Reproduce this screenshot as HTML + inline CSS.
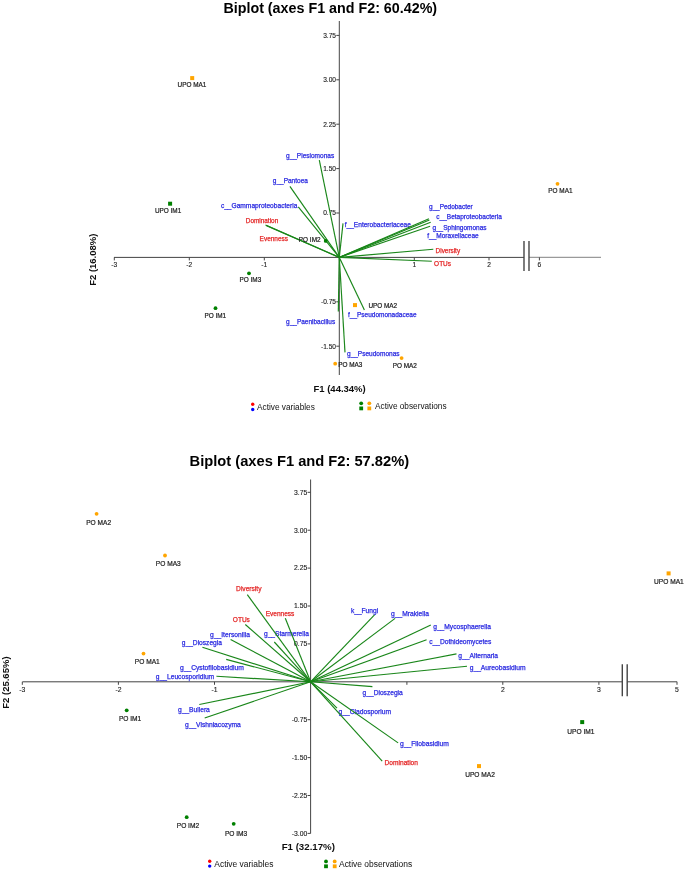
<!DOCTYPE html>
<html><head><meta charset="utf-8"><style>
html,body{margin:0;padding:0;background:#fff;}
svg{display:block;font-family:"Liberation Sans",sans-serif;will-change:transform;}
</style></head><body>
<svg width="685" height="870" viewBox="0 0 685 870">
<defs><filter id="b" x="0" y="0" width="100%" height="100%"><feGaussianBlur stdDeviation="0.28"/></filter></defs>
<rect width="685" height="870" fill="#fff"/>
<g filter="url(#b)">
<line x1="339.3" y1="21" x2="339.3" y2="375" stroke="#454545" stroke-width="1"/>
<line x1="114" y1="257.4" x2="524" y2="257.4" stroke="#454545" stroke-width="1"/>
<line x1="529" y1="257.4" x2="601" y2="257.4" stroke="#9a9a9a" stroke-width="1.4"/>
<line x1="524" y1="240.99999999999997" x2="524" y2="270.9" stroke="#454545" stroke-width="1.4"/>
<line x1="529" y1="240.99999999999997" x2="529" y2="270.9" stroke="#454545" stroke-width="1.4"/>
<line x1="114.3" y1="257.4" x2="114.3" y2="260.4" stroke="#454545" stroke-width="1"/>
<text x="114.3" y="267.1" font-size="6.6" fill="#202020" text-anchor="middle" stroke="#202020" stroke-width="0.12">-3</text>
<line x1="189.3" y1="257.4" x2="189.3" y2="260.4" stroke="#454545" stroke-width="1"/>
<text x="189.3" y="267.1" font-size="6.6" fill="#202020" text-anchor="middle" stroke="#202020" stroke-width="0.12">-2</text>
<line x1="264.3" y1="257.4" x2="264.3" y2="260.4" stroke="#454545" stroke-width="1"/>
<text x="264.3" y="267.1" font-size="6.6" fill="#202020" text-anchor="middle" stroke="#202020" stroke-width="0.12">-1</text>
<line x1="414.3" y1="257.4" x2="414.3" y2="260.4" stroke="#454545" stroke-width="1"/>
<text x="414.3" y="267.1" font-size="6.6" fill="#202020" text-anchor="middle" stroke="#202020" stroke-width="0.12">1</text>
<line x1="489" y1="257.4" x2="489" y2="260.4" stroke="#454545" stroke-width="1"/>
<text x="489" y="267.1" font-size="6.6" fill="#202020" text-anchor="middle" stroke="#202020" stroke-width="0.12">2</text>
<line x1="539.4" y1="257.4" x2="539.4" y2="260.4" stroke="#454545" stroke-width="1"/>
<text x="539.4" y="267.1" font-size="6.6" fill="#202020" text-anchor="middle" stroke="#202020" stroke-width="0.12">6</text>
<line x1="336.3" y1="35.39999999999998" x2="339.3" y2="35.39999999999998" stroke="#454545" stroke-width="1"/>
<text x="336.0" y="37.7" font-size="6.6" fill="#202020" text-anchor="end" stroke="#202020" stroke-width="0.12">3.75</text>
<line x1="336.3" y1="79.79999999999995" x2="339.3" y2="79.79999999999995" stroke="#454545" stroke-width="1"/>
<text x="336.0" y="82.1" font-size="6.6" fill="#202020" text-anchor="end" stroke="#202020" stroke-width="0.12">3.00</text>
<line x1="336.3" y1="124.19999999999996" x2="339.3" y2="124.19999999999996" stroke="#454545" stroke-width="1"/>
<text x="336.0" y="126.5" font-size="6.6" fill="#202020" text-anchor="end" stroke="#202020" stroke-width="0.12">2.25</text>
<line x1="336.3" y1="168.59999999999997" x2="339.3" y2="168.59999999999997" stroke="#454545" stroke-width="1"/>
<text x="336.0" y="170.9" font-size="6.6" fill="#202020" text-anchor="end" stroke="#202020" stroke-width="0.12">1.50</text>
<line x1="336.3" y1="212.99999999999997" x2="339.3" y2="212.99999999999997" stroke="#454545" stroke-width="1"/>
<text x="336.0" y="215.3" font-size="6.6" fill="#202020" text-anchor="end" stroke="#202020" stroke-width="0.12">0.75</text>
<line x1="336.3" y1="301.79999999999995" x2="339.3" y2="301.79999999999995" stroke="#454545" stroke-width="1"/>
<text x="336.0" y="304.1" font-size="6.6" fill="#202020" text-anchor="end" stroke="#202020" stroke-width="0.12">-0.75</text>
<line x1="336.3" y1="346.2" x2="339.3" y2="346.2" stroke="#454545" stroke-width="1"/>
<text x="336.0" y="348.5" font-size="6.6" fill="#202020" text-anchor="end" stroke="#202020" stroke-width="0.12">-1.50</text>
<text x="286.0" y="157.51" font-size="6.52" fill="#2a2ae0" stroke="#2a2ae0" stroke-width="0.25">g__Plesiomonas</text>
<text x="272.8" y="183.1" font-size="6.5" fill="#2a2ae0" stroke="#2a2ae0" stroke-width="0.25">g__Pantoea</text>
<text x="220.9" y="207.54" font-size="6.61" fill="#2a2ae0" stroke="#2a2ae0" stroke-width="0.25">c__Gammaproteobacteria</text>
<text x="245.8" y="222.57" font-size="6.42" fill="#e42828" stroke="#e42828" stroke-width="0.25">Domination</text>
<text x="259.6" y="241.4" font-size="6.49" fill="#e42828" stroke="#e42828" stroke-width="0.25">Evenness</text>
<text x="344.7" y="226.63" font-size="6.58" fill="#2a2ae0" stroke="#2a2ae0" stroke-width="0.25">f__Enterobacteriaceae</text>
<text x="428.9" y="209.09" font-size="6.46" fill="#2a2ae0" stroke="#2a2ae0" stroke-width="0.25">g__Pedobacter</text>
<text x="436.3" y="218.61" font-size="6.52" fill="#2a2ae0" stroke="#2a2ae0" stroke-width="0.25">c__Betaproteobacteria</text>
<text x="432.4" y="229.6" font-size="6.51" fill="#2a2ae0" stroke="#2a2ae0" stroke-width="0.25">g__Sphingomonas</text>
<text x="427.2" y="237.81" font-size="6.54" fill="#2a2ae0" stroke="#2a2ae0" stroke-width="0.25">f__Moraxellaceae</text>
<text x="435.6" y="252.67" font-size="6.4" fill="#e42828" stroke="#e42828" stroke-width="0.25">Diversity</text>
<text x="434.1" y="265.79" font-size="6.48" fill="#e42828" stroke="#e42828" stroke-width="0.25">OTUs</text>
<text x="348.0" y="316.9" font-size="6.49" fill="#2a2ae0" stroke="#2a2ae0" stroke-width="0.25">f__Pseudomonadaceae</text>
<text x="286.1" y="323.5" font-size="6.49" fill="#2a2ae0" stroke="#2a2ae0" stroke-width="0.25">g__Paenibacillus</text>
<text x="347.0" y="355.81" font-size="6.53" fill="#2a2ae0" stroke="#2a2ae0" stroke-width="0.25">g__Pseudomonas</text>
<line x1="339.3" y1="257.4" x2="319.3" y2="160.1" stroke="#1a861a" stroke-width="1.15"/>
<line x1="339.3" y1="257.4" x2="289.9" y2="186.4" stroke="#1a861a" stroke-width="1.15"/>
<line x1="339.3" y1="257.4" x2="298.3" y2="206.8" stroke="#1a861a" stroke-width="1.15"/>
<line x1="339.3" y1="257.4" x2="265.5" y2="225" stroke="#1a861a" stroke-width="1.15"/>
<line x1="339.3" y1="257.4" x2="266.5" y2="225.6" stroke="#1a861a" stroke-width="1.15"/>
<line x1="339.3" y1="257.4" x2="343" y2="223.4" stroke="#1a861a" stroke-width="1.15"/>
<line x1="339.3" y1="257.4" x2="428.9" y2="218.7" stroke="#1a861a" stroke-width="1.15"/>
<line x1="339.3" y1="257.4" x2="429.4" y2="220" stroke="#1a861a" stroke-width="1.15"/>
<line x1="339.3" y1="257.4" x2="430.7" y2="222.2" stroke="#1a861a" stroke-width="1.15"/>
<line x1="339.3" y1="257.4" x2="430.1" y2="226.2" stroke="#1a861a" stroke-width="1.15"/>
<line x1="339.3" y1="257.4" x2="433.3" y2="249.2" stroke="#1a861a" stroke-width="1.15"/>
<line x1="339.3" y1="257.4" x2="431.8" y2="261.3" stroke="#1a861a" stroke-width="1.15"/>
<line x1="339.3" y1="257.4" x2="364.4" y2="310.1" stroke="#1a861a" stroke-width="1.15"/>
<line x1="339.3" y1="257.4" x2="338.3" y2="311.6" stroke="#1a861a" stroke-width="1.15"/>
<line x1="339.3" y1="257.4" x2="345" y2="352.4" stroke="#1a861a" stroke-width="1.15"/>
<rect x="190.2" y="76.1" width="4" height="4" fill="#FFA500"/>
<text x="191.95" y="87.26" font-size="6.4" fill="#202020" text-anchor="middle" stroke="#202020" stroke-width="0.2">UPO MA1</text>
<rect x="168.1" y="201.7" width="4" height="4" fill="#008000"/>
<text x="168.1" y="213.06" font-size="6.4" fill="#202020" text-anchor="middle" stroke="#202020" stroke-width="0.2">UPO IM1</text>
<circle cx="325.7" cy="240.9" r="1.9" fill="#008000"/>
<text x="309.7" y="242.16" font-size="6.4" fill="#202020" text-anchor="middle" stroke="#202020" stroke-width="0.2">PO IM2</text>
<circle cx="249" cy="273.3" r="1.9" fill="#008000"/>
<text x="250.4" y="282.46" font-size="6.4" fill="#202020" text-anchor="middle" stroke="#202020" stroke-width="0.2">PO IM3</text>
<circle cx="215.5" cy="308.2" r="1.9" fill="#008000"/>
<text x="215.25" y="317.56" font-size="6.4" fill="#202020" text-anchor="middle" stroke="#202020" stroke-width="0.2">PO IM1</text>
<circle cx="557.5" cy="183.8" r="1.9" fill="#FFA500"/>
<text x="560.4" y="193.36" font-size="6.4" fill="#202020" text-anchor="middle" stroke="#202020" stroke-width="0.2">PO MA1</text>
<rect x="353.0" y="303.1" width="4" height="4" fill="#FFA500"/>
<text x="382.8" y="307.76" font-size="6.4" fill="#202020" text-anchor="middle" stroke="#202020" stroke-width="0.2">UPO MA2</text>
<circle cx="335.2" cy="363.7" r="1.9" fill="#FFA500"/>
<text x="350.3" y="366.86" font-size="6.4" fill="#202020" text-anchor="middle" stroke="#202020" stroke-width="0.2">PO MA3</text>
<circle cx="401.6" cy="358.1" r="1.9" fill="#FFA500"/>
<text x="404.75" y="368.26" font-size="6.4" fill="#202020" text-anchor="middle" stroke="#202020" stroke-width="0.2">PO MA2</text>
<text x="223.4" y="12.7" font-size="14.3" fill="#000" font-weight="bold">Biplot (axes F1 and F2: 60.42%)</text>
<text x="339.6" y="392.2" font-size="9.5" fill="#111" text-anchor="middle" font-weight="bold">F1 (44.34%)</text>
<text x="96.4" y="259.7" font-size="9.5" fill="#111" font-weight="bold" text-anchor="middle" transform="rotate(-90 96.4 259.7)">F2 (16.08%)</text>
<circle cx="252.7" cy="404.2" r="1.7" fill="#FF0000"/>
<circle cx="252.7" cy="409.5" r="1.7" fill="#0000FF"/>
<text x="257.0" y="410" font-size="8.25" fill="#111">Active variables</text>
<circle cx="361.2" cy="403.3" r="1.9" fill="#008000"/>
<rect x="359.3" y="406.5" width="3.8" height="3.8" fill="#008000"/>
<circle cx="369.3" cy="403.3" r="1.9" fill="#FFA500"/>
<rect x="367.4" y="406.5" width="3.8" height="3.8" fill="#FFA500"/>
<text x="375.0" y="409.3" font-size="8.25" fill="#111">Active observations</text>
<line x1="310.6" y1="479.5" x2="310.6" y2="833.5" stroke="#454545" stroke-width="1"/>
<line x1="22.4" y1="681.8" x2="622.3" y2="681.8" stroke="#454545" stroke-width="1"/>
<line x1="627.2" y1="681.8" x2="677.1" y2="681.8" stroke="#454545" stroke-width="1"/>
<line x1="622.3" y1="664.3" x2="622.3" y2="696.3" stroke="#454545" stroke-width="1.4"/>
<line x1="627.2" y1="664.3" x2="627.2" y2="696.3" stroke="#454545" stroke-width="1.4"/>
<line x1="22.3" y1="681.8" x2="22.3" y2="684.8" stroke="#454545" stroke-width="1"/>
<text x="22.3" y="692.0" font-size="6.8" fill="#202020" text-anchor="middle" stroke="#202020" stroke-width="0.12">-3</text>
<line x1="118.4" y1="681.8" x2="118.4" y2="684.8" stroke="#454545" stroke-width="1"/>
<text x="118.4" y="692.0" font-size="6.8" fill="#202020" text-anchor="middle" stroke="#202020" stroke-width="0.12">-2</text>
<line x1="214.5" y1="681.8" x2="214.5" y2="684.8" stroke="#454545" stroke-width="1"/>
<text x="214.5" y="692.0" font-size="6.8" fill="#202020" text-anchor="middle" stroke="#202020" stroke-width="0.12">-1</text>
<line x1="406.9" y1="681.8" x2="406.9" y2="684.8" stroke="#454545" stroke-width="1"/>
<line x1="502.8" y1="681.8" x2="502.8" y2="684.8" stroke="#454545" stroke-width="1"/>
<text x="502.8" y="692.0" font-size="6.8" fill="#202020" text-anchor="middle" stroke="#202020" stroke-width="0.12">2</text>
<line x1="598.9" y1="681.8" x2="598.9" y2="684.8" stroke="#454545" stroke-width="1"/>
<text x="598.9" y="692.0" font-size="6.8" fill="#202020" text-anchor="middle" stroke="#202020" stroke-width="0.12">3</text>
<line x1="677" y1="681.8" x2="677" y2="684.8" stroke="#454545" stroke-width="1"/>
<text x="677" y="692.0" font-size="6.8" fill="#202020" text-anchor="middle" stroke="#202020" stroke-width="0.12">5</text>
<line x1="307.6" y1="492.31249999999994" x2="310.6" y2="492.31249999999994" stroke="#454545" stroke-width="1"/>
<text x="307.3" y="494.61" font-size="6.8" fill="#202020" text-anchor="end" stroke="#202020" stroke-width="0.12">3.75</text>
<line x1="307.6" y1="530.2099999999999" x2="310.6" y2="530.2099999999999" stroke="#454545" stroke-width="1"/>
<text x="307.3" y="532.51" font-size="6.8" fill="#202020" text-anchor="end" stroke="#202020" stroke-width="0.12">3.00</text>
<line x1="307.6" y1="568.1075" x2="310.6" y2="568.1075" stroke="#454545" stroke-width="1"/>
<text x="307.3" y="570.41" font-size="6.8" fill="#202020" text-anchor="end" stroke="#202020" stroke-width="0.12">2.25</text>
<line x1="307.6" y1="606.005" x2="310.6" y2="606.005" stroke="#454545" stroke-width="1"/>
<text x="307.3" y="608.3" font-size="6.8" fill="#202020" text-anchor="end" stroke="#202020" stroke-width="0.12">1.50</text>
<line x1="307.6" y1="643.9024999999999" x2="310.6" y2="643.9024999999999" stroke="#454545" stroke-width="1"/>
<text x="307.3" y="646.2" font-size="6.8" fill="#202020" text-anchor="end" stroke="#202020" stroke-width="0.12">0.75</text>
<line x1="307.6" y1="719.6975" x2="310.6" y2="719.6975" stroke="#454545" stroke-width="1"/>
<text x="307.3" y="722.0" font-size="6.8" fill="#202020" text-anchor="end" stroke="#202020" stroke-width="0.12">-0.75</text>
<line x1="307.6" y1="757.5949999999999" x2="310.6" y2="757.5949999999999" stroke="#454545" stroke-width="1"/>
<text x="307.3" y="759.89" font-size="6.8" fill="#202020" text-anchor="end" stroke="#202020" stroke-width="0.12">-1.50</text>
<line x1="307.6" y1="795.4925" x2="310.6" y2="795.4925" stroke="#454545" stroke-width="1"/>
<text x="307.3" y="797.79" font-size="6.8" fill="#202020" text-anchor="end" stroke="#202020" stroke-width="0.12">-2.25</text>
<line x1="307.6" y1="833.39" x2="310.6" y2="833.39" stroke="#454545" stroke-width="1"/>
<text x="307.3" y="835.69" font-size="6.8" fill="#202020" text-anchor="end" stroke="#202020" stroke-width="0.12">-3.00</text>
<text x="236.1" y="590.84" font-size="6.63" fill="#e42828" stroke="#e42828" stroke-width="0.25">Diversity</text>
<text x="265.7" y="616.21" font-size="6.54" fill="#e42828" stroke="#e42828" stroke-width="0.25">Evenness</text>
<text x="232.8" y="621.72" font-size="6.55" fill="#e42828" stroke="#e42828" stroke-width="0.25">OTUs</text>
<text x="210.1" y="636.96" font-size="6.69" fill="#2a2ae0" stroke="#2a2ae0" stroke-width="0.25">g__Itersonilia</text>
<text x="264.0" y="635.65" font-size="6.64" fill="#2a2ae0" stroke="#2a2ae0" stroke-width="0.25">g__Starmerella</text>
<text x="181.8" y="645.14" font-size="6.63" fill="#2a2ae0" stroke="#2a2ae0" stroke-width="0.25">g__Dioszegia</text>
<text x="179.9" y="670.08" font-size="6.74" fill="#2a2ae0" stroke="#2a2ae0" stroke-width="0.25">g__Cystofilobasidium</text>
<text x="155.8" y="678.76" font-size="6.69" fill="#2a2ae0" stroke="#2a2ae0" stroke-width="0.25">g__Leucosporidium</text>
<text x="178.0" y="712.16" font-size="6.67" fill="#2a2ae0" stroke="#2a2ae0" stroke-width="0.25">g__Bullera</text>
<text x="185.0" y="726.95" font-size="6.66" fill="#2a2ae0" stroke="#2a2ae0" stroke-width="0.25">g__Vishniacozyma</text>
<text x="350.9" y="613.25" font-size="6.64" fill="#2a2ae0" stroke="#2a2ae0" stroke-width="0.25">k__Fungi</text>
<text x="391.0" y="616.07" font-size="6.7" fill="#2a2ae0" stroke="#2a2ae0" stroke-width="0.25">g__Mrakiella</text>
<text x="433.2" y="628.86" font-size="6.67" fill="#2a2ae0" stroke="#2a2ae0" stroke-width="0.25">g__Mycosphaerella</text>
<text x="429.2" y="643.56" font-size="6.67" fill="#2a2ae0" stroke="#2a2ae0" stroke-width="0.25">c__Dothideomycetes</text>
<text x="458.3" y="658.46" font-size="6.69" fill="#2a2ae0" stroke="#2a2ae0" stroke-width="0.25">g__Alternaria</text>
<text x="469.7" y="670.27" font-size="6.71" fill="#2a2ae0" stroke="#2a2ae0" stroke-width="0.25">g__Aureobasidium</text>
<text x="362.6" y="694.64" font-size="6.63" fill="#2a2ae0" stroke="#2a2ae0" stroke-width="0.25">g__Dioszegia</text>
<text x="338.5" y="713.87" font-size="6.71" fill="#2a2ae0" stroke="#2a2ae0" stroke-width="0.25">g__Cladosporium</text>
<text x="400.0" y="746.28" font-size="6.73" fill="#2a2ae0" stroke="#2a2ae0" stroke-width="0.25">g__Filobasidium</text>
<text x="384.6" y="764.53" font-size="6.6" fill="#e42828" stroke="#e42828" stroke-width="0.25">Domination</text>
<line x1="310.6" y1="681.8" x2="247.3" y2="594.6" stroke="#1a861a" stroke-width="1.15"/>
<line x1="310.6" y1="681.8" x2="285.3" y2="618.2" stroke="#1a861a" stroke-width="1.15"/>
<line x1="310.6" y1="681.8" x2="245.3" y2="624.5" stroke="#1a861a" stroke-width="1.15"/>
<line x1="310.6" y1="681.8" x2="230.6" y2="639.5" stroke="#1a861a" stroke-width="1.15"/>
<line x1="310.6" y1="681.8" x2="274.3" y2="642" stroke="#1a861a" stroke-width="1.15"/>
<line x1="310.6" y1="681.8" x2="202.4" y2="647.3" stroke="#1a861a" stroke-width="1.15"/>
<line x1="310.6" y1="681.8" x2="226.2" y2="659.4" stroke="#1a861a" stroke-width="1.15"/>
<line x1="310.6" y1="681.8" x2="216.4" y2="676.3" stroke="#1a861a" stroke-width="1.15"/>
<line x1="310.6" y1="681.8" x2="199.3" y2="704.5" stroke="#1a861a" stroke-width="1.15"/>
<line x1="310.6" y1="681.8" x2="204.7" y2="718" stroke="#1a861a" stroke-width="1.15"/>
<line x1="310.6" y1="681.8" x2="374.5" y2="614.8" stroke="#1a861a" stroke-width="1.15"/>
<line x1="310.6" y1="681.8" x2="395.1" y2="618.4" stroke="#1a861a" stroke-width="1.15"/>
<line x1="310.6" y1="681.8" x2="430.8" y2="625.1" stroke="#1a861a" stroke-width="1.15"/>
<line x1="310.6" y1="681.8" x2="426.6" y2="639.8" stroke="#1a861a" stroke-width="1.15"/>
<line x1="310.6" y1="681.8" x2="456.5" y2="653.9" stroke="#1a861a" stroke-width="1.15"/>
<line x1="310.6" y1="681.8" x2="467" y2="666.2" stroke="#1a861a" stroke-width="1.15"/>
<line x1="310.6" y1="681.8" x2="372.4" y2="686.6" stroke="#1a861a" stroke-width="1.15"/>
<line x1="310.6" y1="681.8" x2="337" y2="708.2" stroke="#1a861a" stroke-width="1.15"/>
<line x1="310.6" y1="681.8" x2="398.1" y2="742.9" stroke="#1a861a" stroke-width="1.15"/>
<line x1="310.6" y1="681.8" x2="382.2" y2="761.1" stroke="#1a861a" stroke-width="1.15"/>
<circle cx="96.6" cy="513.8" r="1.9" fill="#FFA500"/>
<text x="98.65" y="525.04" font-size="6.6" fill="#202020" text-anchor="middle" stroke="#202020" stroke-width="0.2">PO MA2</text>
<circle cx="165" cy="555.5" r="1.9" fill="#FFA500"/>
<text x="168.25" y="566.04" font-size="6.6" fill="#202020" text-anchor="middle" stroke="#202020" stroke-width="0.2">PO MA3</text>
<rect x="666.6" y="571.4" width="4" height="4" fill="#FFA500"/>
<text x="668.95" y="584.14" font-size="6.6" fill="#202020" text-anchor="middle" stroke="#202020" stroke-width="0.2">UPO MA1</text>
<circle cx="143.5" cy="653.6" r="1.9" fill="#FFA500"/>
<text x="147.3" y="664.04" font-size="6.6" fill="#202020" text-anchor="middle" stroke="#202020" stroke-width="0.2">PO MA1</text>
<circle cx="126.7" cy="710.3" r="1.9" fill="#008000"/>
<text x="130.1" y="720.64" font-size="6.6" fill="#202020" text-anchor="middle" stroke="#202020" stroke-width="0.2">PO IM1</text>
<rect x="580.2" y="720.1" width="4" height="4" fill="#008000"/>
<text x="580.85" y="733.64" font-size="6.6" fill="#202020" text-anchor="middle" stroke="#202020" stroke-width="0.2">UPO IM1</text>
<rect x="477.0" y="764.1" width="4" height="4" fill="#FFA500"/>
<text x="480.0" y="777.14" font-size="6.6" fill="#202020" text-anchor="middle" stroke="#202020" stroke-width="0.2">UPO MA2</text>
<circle cx="186.7" cy="817.2" r="1.9" fill="#008000"/>
<text x="187.95" y="828.14" font-size="6.6" fill="#202020" text-anchor="middle" stroke="#202020" stroke-width="0.2">PO IM2</text>
<circle cx="233.7" cy="823.8" r="1.9" fill="#008000"/>
<text x="236.1" y="835.64" font-size="6.6" fill="#202020" text-anchor="middle" stroke="#202020" stroke-width="0.2">PO IM3</text>
<text x="189.6" y="466" font-size="14.7" fill="#000" font-weight="bold">Biplot (axes F1 and F2: 57.82%)</text>
<text x="308.3" y="849.5" font-size="9.7" fill="#111" text-anchor="middle" font-weight="bold">F1 (32.17%)</text>
<text x="8.9" y="682.6" font-size="9.5" fill="#111" font-weight="bold" text-anchor="middle" transform="rotate(-90 8.9 682.6)">F2 (25.65%)</text>
<circle cx="209.7" cy="861.3" r="1.7" fill="#FF0000"/>
<circle cx="209.7" cy="866.1" r="1.7" fill="#0000FF"/>
<text x="214.3" y="866.9" font-size="8.45" fill="#111">Active variables</text>
<circle cx="326" cy="861.4" r="1.9" fill="#008000"/>
<rect x="324.1" y="864.4" width="3.8" height="3.8" fill="#008000"/>
<circle cx="334.7" cy="861.4" r="1.9" fill="#FFA500"/>
<rect x="332.8" y="864.4" width="3.8" height="3.8" fill="#FFA500"/>
<text x="339.0" y="866.9" font-size="8.45" fill="#111">Active observations</text>
</g>
</svg></body></html>
